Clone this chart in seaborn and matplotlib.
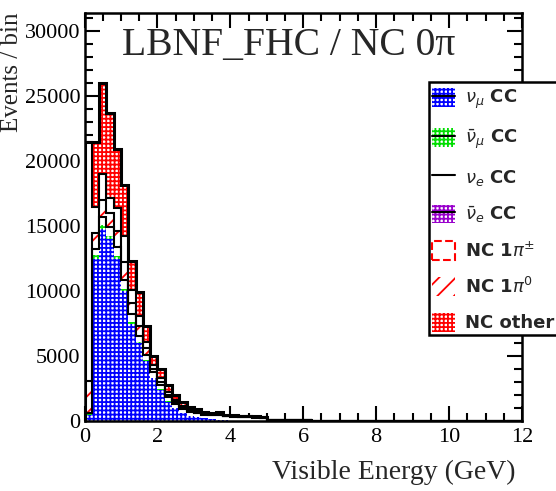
import numpy as np
import pandas as pd
import matplotlib
matplotlib.use("Agg")
import matplotlib.pyplot as plt
import seaborn as sns
from matplotlib.patches import Patch, Rectangle
from matplotlib.lines import Line2D
from matplotlib.colors import to_hex
from matplotlib.ticker import MultipleLocator

# ---------------- data (thousands of events per 0.2 GeV bin) ----------------
bin_width = 0.2
n_bins = 60
numu_cc_k = [0.5, 12.5, 14.8, 14.0, 12.5, 10.0, 7.5, 6.0, 4.6, 3.3,
             2.4, 1.5, 1.0, 0.6, 0.4, 0.3, 0.2, 0.15, 0.1, 0.05,
             0.03, 0.02, 0.01, 0, 0, 0, 0, 0, 0, 0,
             0, 0, 0, 0, 0, 0, 0, 0, 0, 0,
             0, 0, 0, 0, 0, 0, 0, 0, 0, 0,
             0, 0, 0, 0, 0, 0, 0, 0, 0, 0]
numubar_cc_k = [0.05, 0.3, 0.3, 0.25, 0.2, 0.15, 0.1, 0.08, 0.06, 0.04,
                0.03, 0.02, 0.01, 0.01, 0, 0, 0, 0, 0, 0,
                0, 0, 0, 0, 0, 0, 0, 0, 0, 0,
                0, 0, 0, 0, 0, 0, 0, 0, 0, 0,
                0, 0, 0, 0, 0, 0, 0, 0, 0, 0,
                0, 0, 0, 0, 0, 0, 0, 0, 0, 0]
nue_cc_k = [0.1, 0.4, 0.6, 0.7, 0.7, 0.7, 0.6, 0.5, 0.45, 0.4,
            0.35, 0.3, 0.3, 0.3, 0.3, 0.3, 0.3, 0.3, 0.35, 0.3,
            0.3, 0.3, 0.3, 0.25, 0.25, 0.08, 0.07, 0.06, 0.05, 0.05,
            0.04, 0.03, 0.03, 0.02, 0.02, 0.02, 0.01, 0.01, 0.01, 0.01,
            0, 0, 0, 0, 0, 0, 0, 0, 0, 0,
            0, 0, 0, 0, 0, 0, 0, 0, 0, 0]
nuebar_cc_k = [0, 0.05, 0.08, 0.08, 0.07, 0.06, 0.05, 0.04, 0.03, 0.03,
               0.02, 0.02, 0.02, 0.01, 0.01, 0, 0, 0, 0, 0,
               0, 0, 0, 0, 0, 0, 0, 0, 0, 0,
               0, 0, 0, 0, 0, 0, 0, 0, 0, 0,
               0, 0, 0, 0, 0, 0, 0, 0, 0, 0,
               0, 0, 0, 0, 0, 0, 0, 0, 0, 0]
nc_1pi0_k = [2.4, 1.25, 1.22, 0.97, 1.13, 1.29, 0.85, 0.68, 0.46, 0.23,
             0.2, 0.16, 0.12, 0.1, 0.07, 0.05, 0.03, 0.03, 0.04, 0.02,
             0.02, 0.01, 0.02, 0.02, 0.01, 0, 0, 0, 0, 0,
             0, 0, 0, 0, 0, 0, 0, 0, 0, 0,
             0, 0, 0, 0, 0, 0, 0, 0, 0, 0,
             0, 0, 0, 0, 0, 0, 0, 0, 0, 0]
nc_1pic_k = [18.45, 2.0, 2.0, 1.2, 1.8, 2.0, 1.0, 0.8, 0.5, 0.3,
             0.3, 0.25, 0.15, 0.13, 0.09, 0.07, 0.05, 0.05, 0.06, 0.04,
             0.03, 0.02, 0.02, 0.02, 0.01, 0, 0, 0, 0, 0,
             0, 0, 0, 0, 0, 0, 0, 0, 0, 0,
             0, 0, 0, 0, 0, 0, 0, 0, 0, 0,
             0, 0, 0, 0, 0, 0, 0, 0, 0, 0]
nc_other_k = [0, 5.0, 7.0, 6.5, 4.5, 4.0, 2.2, 1.8, 1.2, 0.7,
              0.7, 0.55, 0.4, 0.35, 0.22, 0.17, 0.12, 0.12, 0.15, 0.09,
              0.07, 0.05, 0.05, 0.06, 0.03, 0.02, 0.02, 0.01, 0.01, 0.01,
              0, 0, 0, 0, 0, 0, 0, 0, 0, 0,
              0, 0, 0, 0, 0, 0, 0, 0, 0, 0,
              0, 0, 0, 0, 0, 0, 0, 0, 0, 0]

legend_labels = [r"$\nu_{\mu}$ CC", r"$\bar{\nu}_{\mu}$ CC", r"$\nu_{e}$ CC",
                 r"$\bar{\nu}_{e}$ CC", r"NC 1$\pi^{\pm}$", r"NC 1$\pi^{0}$", "NC other"]
title_text = "LBNF_FHC / NC 0π"
x_title = "Visible Energy (GeV)"
y_title = "Events / bin"
x_ticks = [0, 2, 4, 6, 8, 10, 12]
y_ticks = [0, 5000, 10000, 15000, 20000, 25000, 30000]

# stack order (bottom -> top)
stack = [
    ("numu", numu_cc_k), ("numubar", numubar_cc_k), ("nue", nue_cc_k),
    ("nuebar", nuebar_cc_k), ("nc1pi0", nc_1pi0_k), ("nc1pic", nc_1pic_k),
    ("ncother", nc_other_k),
]
edges = np.arange(n_bins + 1) * bin_width
centers = edges[:-1] + bin_width / 2

rows = []
for name, vals in stack:
    for c, v in zip(centers, vals):
        rows.append({"E": float(c), "w": float(v) * 1000.0, "comp": name})
df = pd.DataFrame(rows)

# ---------------- styling ----------------
sns.set_style("ticks")
plt.rcParams["hatch.linewidth"] = 1.3
plt.rcParams["font.family"] = ["Liberation Serif", "DejaVu Serif"]
plt.rcParams["mathtext.fontset"] = "dejavusans"

fig = plt.figure(figsize=(5.56, 4.91), dpi=100)
ax = fig.add_axes([84.5 / 556, 70 / 491, (522 - 84.5) / 556, (421 - 13) / 491])

marker_cols = ["#1f77b4", "#ff7f0e", "#2ca02c", "#d62728", "#9467bd", "#8c564b", "#e377c2"]
order = [s[0] for s in stack]
palette = dict(zip(order, marker_cols))
# seaborn stacks the first hue level on top, so pass the order reversed
sns.histplot(data=df, x="E", weights="w", hue="comp", hue_order=order[::-1],
             multiple="stack", binwidth=bin_width, binrange=(0, 12),
             palette=palette, alpha=1, legend=False, ax=ax)

style = {
    "numu": dict(fc="white", hc="#0000ff", hatch="++++"),
    "numubar": dict(fc="white", hc="#00dd00", hatch="++++"),
    "nue": dict(fc="white", hc="white", hatch=None),
    "nuebar": dict(fc="white", hc="#9900cc", hatch="++++"),
    "nc1pi0": dict(fc="white", hc="#ff0000", hatch="//"),
    "nc1pic": dict(fc="white", hc="white", hatch=None),
    "ncother": dict(fc="white", hc="#ff0000", hatch="++++"),
}
col2name = {to_hex(c): n for n, c in palette.items()}
for p in ax.patches:
    name = col2name.get(to_hex(p.get_facecolor()[:3]))
    if name is None:
        continue
    st = style[name]
    p.set_facecolor(st["fc"])
    p.set_edgecolor(st["hc"])
    p.set_linewidth(0)
    if st["hatch"]:
        p.set_hatch(st["hatch"])

# outlines of cumulative stacks
cum = np.zeros(n_bins)
cums = {}
for name, vals in stack:
    cum = cum + np.array(vals) * 1000.0
    cums[name] = cum.copy()
ax.stairs(cums["nue"], edges, color="black", lw=1.5, zorder=3)
ax.stairs(cums["nc1pi0"], edges, color="black", lw=1.5, zorder=3)
ax.stairs(cums["nc1pic"], edges, color="black", lw=1.5, zorder=3)
ax.stairs(cums["ncother"], edges, color="black", lw=2.2, zorder=3)

ax.set_xlim(0, 12)
ax.set_ylim(0, 31400)
ax.set_xticks(x_ticks)
ax.set_xticklabels([str(t) for t in x_ticks])
ax.set_yticks(y_ticks)
ax.set_yticklabels([str(t) for t in y_ticks])
ax.xaxis.set_minor_locator(MultipleLocator(0.5))
ax.yaxis.set_minor_locator(MultipleLocator(1000))
ax.tick_params(which="both", direction="in", top=True, right=True, width=1.5,
               labelsize=16, colors="black")
ax.tick_params(which="major", length=11)
ax.tick_params(which="minor", length=6)
ax.tick_params(axis="x", pad=5)
ax.tick_params(axis="y", pad=3)
for s in ax.spines.values():
    s.set_linewidth(1.8)
    s.set_color("black")
    s.set_zorder(4)
ax.set_xlabel("")
ax.set_ylabel("")

fig.text(515 / 556, 1 - 472 / 491, x_title, ha="right", va="center", fontsize=20)
fig.text(12 / 556, 1 - 13 / 491, y_title, ha="center", va="top", rotation=90, fontsize=18)
fig.text(122 / 556, 1 - 55 / 491, title_text, ha="left", va="baseline", fontsize=28.5)

# legend box
fig.add_artist(Rectangle((429 / 556, 1 - 335 / 491), 0.5, (335 - 82) / 491,
                         transform=fig.transFigure, facecolor="white",
                         edgecolor="black", lw=1.8, zorder=4))
blk = Line2D([], [], color="black", lw=1.5)
handles = [
    (Patch(facecolor="white", edgecolor="#0000ff", hatch="++++", lw=0), blk),
    (Patch(facecolor="white", edgecolor="#00dd00", hatch="++++", lw=0), blk),
    Line2D([], [], color="black", lw=1.5),
    (Patch(facecolor="white", edgecolor="#9900cc", hatch="++++", lw=0), blk),
    Patch(facecolor="white", edgecolor="#ff0000", linestyle="--", lw=1.5),
    Patch(facecolor="white", edgecolor="#ff0000", hatch="//", lw=0),
    Patch(facecolor="white", edgecolor="#ff0000", hatch="++++", lw=0),
]
leg = fig.legend(handles, legend_labels, loc="upper left",
                 bbox_to_anchor=(432 / 556, 1 - 88 / 491), frameon=False,
                 prop=dict(family="DejaVu Sans", weight="bold", size=13),
                 handlelength=1.3, handleheight=1.2, labelspacing=0.9,
                 handletextpad=0.5, borderpad=0, borderaxespad=0)
leg.set_zorder(5)

fig.savefig("out.png", dpi=100)
